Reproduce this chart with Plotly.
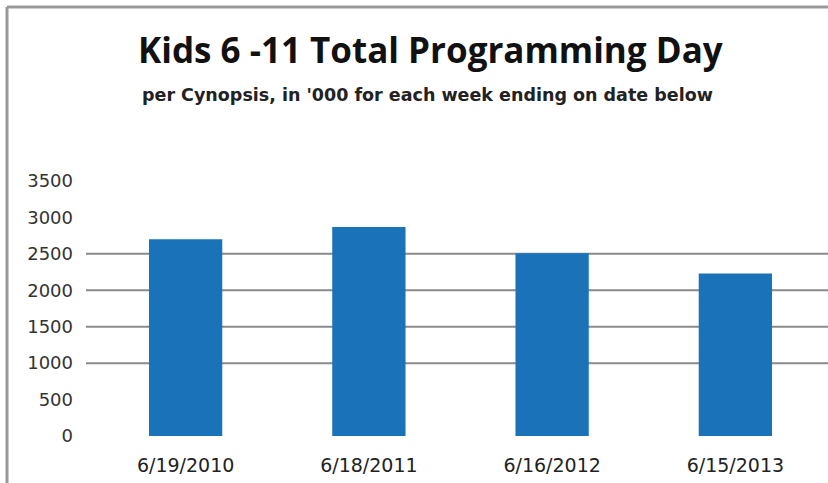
import plotly.graph_objects as go

dates = ["6/19/2010", "6/18/2011", "6/16/2012", "6/15/2013"]
viewers = [2700, 2870, 2510, 2230]
tick_values = [0, 500, 1000, 1500, 2000, 2500, 3000, 3500]
grid_values = [1000, 1500, 2000, 2500]

title_text = "Kids 6 -11 Total Programming Day"
subtitle_text = "per Cynopsis, in '000 for each week ending on date below"

fig = go.Figure(
    go.Bar(
        x=dates,
        y=viewers,
        marker=dict(color="#1a73b8", line=dict(width=0)),
    )
)

PW, PH, L, T = 733, 255, 94, 181

shapes = []
for g in grid_values:
    shapes.append(dict(type="line", xref="paper", yref="y", x0=(86 - L) / PW, x1=1.01,
                       y0=g, y1=g, layer="below",
                       line=dict(color="#8a8a8a", width=2)))
# outer frame (top and left) of the original picture
fy = 1 + (T - 7) / PH
fx = (7 - L) / PW
shapes.append(dict(type="line", xref="paper", yref="paper",
                   x0=fx, x1=1.02, y0=fy, y1=fy,
                   line=dict(color="#999999", width=3)))
shapes.append(dict(type="line", xref="paper", yref="paper",
                   x0=fx, x1=fx, y0=-0.3, y1=fy,
                   line=dict(color="#999999", width=3)))

fig.update_layout(
    width=828, height=483,
    margin=dict(l=L, r=828 - L - PW, t=T, b=483 - T - PH),
    paper_bgcolor="white", plot_bgcolor="white",
    bargap=0.6,
    showlegend=False,
    shapes=shapes,
    annotations=[
        dict(text="<b>" + title_text + "</b>", xref="paper", yref="paper",
             x=(430 - L) / PW, y=1 + (T - 49) / PH, xanchor="center", yanchor="middle",
             showarrow=False, font=dict(family="Open Sans", size=35, color="#111111")),
        dict(text="<b>" + subtitle_text + "</b>", xref="paper", yref="paper",
             x=(427 - L) / PW, y=1 + (T - 95) / PH, xanchor="center", yanchor="middle",
             showarrow=False, font=dict(family="DejaVu Sans", size=17.5, color="#222222")),
    ],
    xaxis=dict(
        showgrid=False, showline=False, zeroline=False,
        tickfont=dict(family="DejaVu Sans", size=19, color="#222222"),
        ticklabelstandoff=16,
    ),
    yaxis=dict(
        range=[0, 3500], tickvals=tick_values, showgrid=False, zeroline=False,
        showline=False,
        tickfont=dict(family="DejaVu Sans", size=18, color="#333333"),
        ticklabelstandoff=20,
    ),
)

fig.write_html("out.html", config={"displayModeBar": False},
               post_script="document.body.style.margin='0';document.body.style.overflow='hidden';")
